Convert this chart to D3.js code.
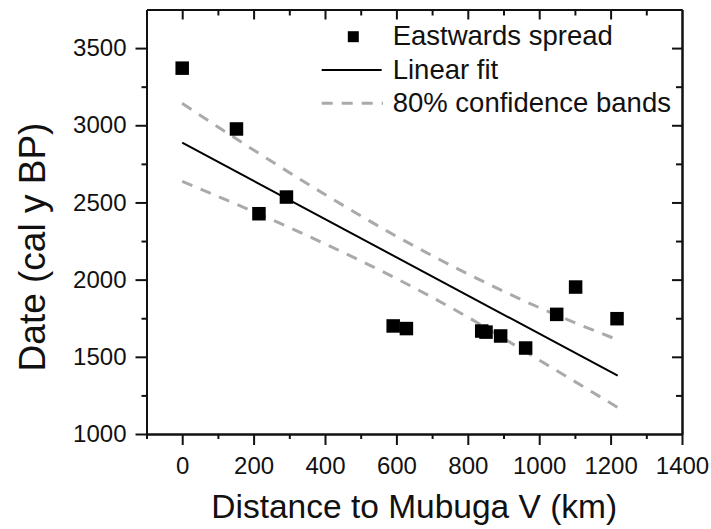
<!DOCTYPE html>
<html>
<head>
<meta charset="utf-8">
<script src="https://cdn.jsdelivr.net/npm/d3@7"></script>
<style>
  html, body { margin: 0; padding: 0; background: #fff; }
  svg { display: block; font-family: "Liberation Sans", Arial, sans-serif; }
</style>
</head>
<body>
<svg id="chart" width="711" height="529"></svg>
<script>
// ---- Data ----
const distanceKm = [0, 152, 215, 292, 591, 628, 839, 851, 892, 962, 1049, 1102, 1218];
const dateCalBP  = [3370, 2976, 2427, 2535, 1700, 1683, 1667, 1660, 1635, 1557, 1775, 1952, 1747];

const fitX = [0, 1220];
const fitY = [2887, 1378];

const bandX     = [0, 200, 400, 600, 800, 1000, 1220];
const bandUpper = [3142, 2840, 2552, 2281, 2037, 1819, 1610];
const bandLower = [2636, 2440, 2232, 2007, 1757, 1479, 1172];

const xMajorTicks = [0, 200, 400, 600, 800, 1000, 1200, 1400];
const xMinorTicks = [-100, 100, 300, 500, 700, 900, 1100, 1300];
const yMajorTicks = [1000, 1500, 2000, 2500, 3000, 3500];
const yMinorTicks = [1250, 1750, 2250, 2750, 3250];

const legendLabels = ["Eastwards spread", "Linear fit", "80% confidence bands"];
const xTitle = "Distance to Mubuga V (km)";
const yTitle = "Date (cal y BP)";

// ---- Layout ----
const svg = d3.select("#chart");
const L = 146.5, R = 682, T = 9.5, B = 434;
const x = d3.scaleLinear().domain([-100, 1400]).range([L, R]);
const y = d3.scaleLinear().domain([1000, 3750]).range([B, T]);

const tickFont = 24;
const fmt = d3.format("d");

function styleAxis(g) {
  g.select(".domain").attr("stroke", "#111").attr("stroke-width", 2);
  g.selectAll(".tick line").attr("stroke", "#111").attr("stroke-width", 2);
  g.selectAll("text").attr("fill", "#111").attr("font-size", tickFont)
    .attr("font-family", "'Liberation Sans', Arial, sans-serif");
}

// Bottom axis
svg.append("g").attr("transform", `translate(0,${B})`)
  .call(d3.axisBottom(x).tickValues(xMinorTicks).tickSize(5).tickFormat("").tickSizeOuter(0))
  .call(styleAxis);
svg.append("g").attr("transform", `translate(0,${B})`)
  .call(d3.axisBottom(x).tickValues(xMajorTicks).tickSize(11).tickPadding(12).tickFormat(fmt).tickSizeOuter(0))
  .call(styleAxis);
// Top axis (inward)
svg.append("g").attr("transform", `translate(0,${T})`)
  .call(d3.axisTop(x).tickValues(xMinorTicks.filter(d => d > -100)).tickSize(-6).tickFormat("").tickSizeOuter(0))
  .call(styleAxis);
svg.append("g").attr("transform", `translate(0,${T})`)
  .call(d3.axisTop(x).tickValues(xMajorTicks.filter(d => d < 1400)).tickSize(-10).tickFormat("").tickSizeOuter(0))
  .call(styleAxis);
// Left axis
svg.append("g").attr("transform", `translate(${L},0)`)
  .call(d3.axisLeft(y).tickValues(yMinorTicks).tickSize(5).tickFormat("").tickSizeOuter(0))
  .call(styleAxis);
svg.append("g").attr("transform", `translate(${L},0)`)
  .call(d3.axisLeft(y).tickValues(yMajorTicks).tickSize(11).tickPadding(9).tickFormat(fmt).tickSizeOuter(0))
  .call(styleAxis);
// Right axis (inward)
svg.append("g").attr("transform", `translate(${R},0)`)
  .call(d3.axisRight(y).tickValues(yMinorTicks).tickSize(-6).tickFormat("").tickSizeOuter(0))
  .call(styleAxis);
svg.append("g").attr("transform", `translate(${R},0)`)
  .call(d3.axisRight(y).tickValues(yMajorTicks.filter(d => d > 1000)).tickSize(-10).tickFormat("").tickSizeOuter(0))
  .call(styleAxis);

// ---- Confidence bands ----
const bandLine = d3.line().curve(d3.curveMonotoneX).x(d => x(d[0])).y(d => y(d[1]));
[bandUpper, bandLower].forEach(arr => {
  svg.append("path")
    .attr("d", bandLine(bandX.map((v, i) => [v, arr[i]])))
    .attr("fill", "none").attr("stroke", "#aaaaaa").attr("stroke-width", 3)
    .attr("stroke-dasharray", "11,9");
});

// ---- Linear fit ----
svg.append("path")
  .attr("d", d3.line().x(d => x(d[0])).y(d => y(d[1]))(fitX.map((v, i) => [v, fitY[i]])))
  .attr("fill", "none").attr("stroke", "#000").attr("stroke-width", 2);

// ---- Points ----
const sq = 13.5;
svg.append("g").selectAll("rect").data(distanceKm.map((v, i) => [v, dateCalBP[i]]))
  .join("rect")
  .attr("x", d => x(d[0]) - sq / 2).attr("y", d => y(d[1]) - sq / 2)
  .attr("width", sq).attr("height", sq).attr("fill", "#000");

// ---- Legend ----
const lg = svg.append("g");
const legFont = 27.5;
const rows = [45, 79, 112];
lg.append("rect").attr("x", 353.3 - 5.5).attr("y", 36.7 - 5.5).attr("width", 11).attr("height", 11).attr("fill", "#000");
lg.append("line").attr("x1", 321.7).attr("x2", 381.7).attr("y1", 70).attr("y2", 70)
  .attr("stroke", "#000").attr("stroke-width", 2);
lg.append("line").attr("x1", 321.7).attr("x2", 383).attr("y1", 103.3).attr("y2", 103.3)
  .attr("stroke", "#aaaaaa").attr("stroke-width", 3).attr("stroke-dasharray", "11,9");
lg.selectAll("text").data(legendLabels).join("text")
  .attr("x", 392.7).attr("y", (d, i) => rows[i])
  .attr("font-size", legFont).attr("fill", "#111").text(d => d);

// ---- Axis titles ----
svg.append("text").attr("x", (L + R) / 2).attr("y", 518)
  .attr("text-anchor", "middle").attr("font-size", 33.5).attr("fill", "#111").text(xTitle);
svg.append("text").attr("transform", "translate(45,247) rotate(-90)")
  .attr("text-anchor", "middle").attr("font-size", 37).attr("fill", "#111").text(yTitle);
</script>
</body>
</html>
